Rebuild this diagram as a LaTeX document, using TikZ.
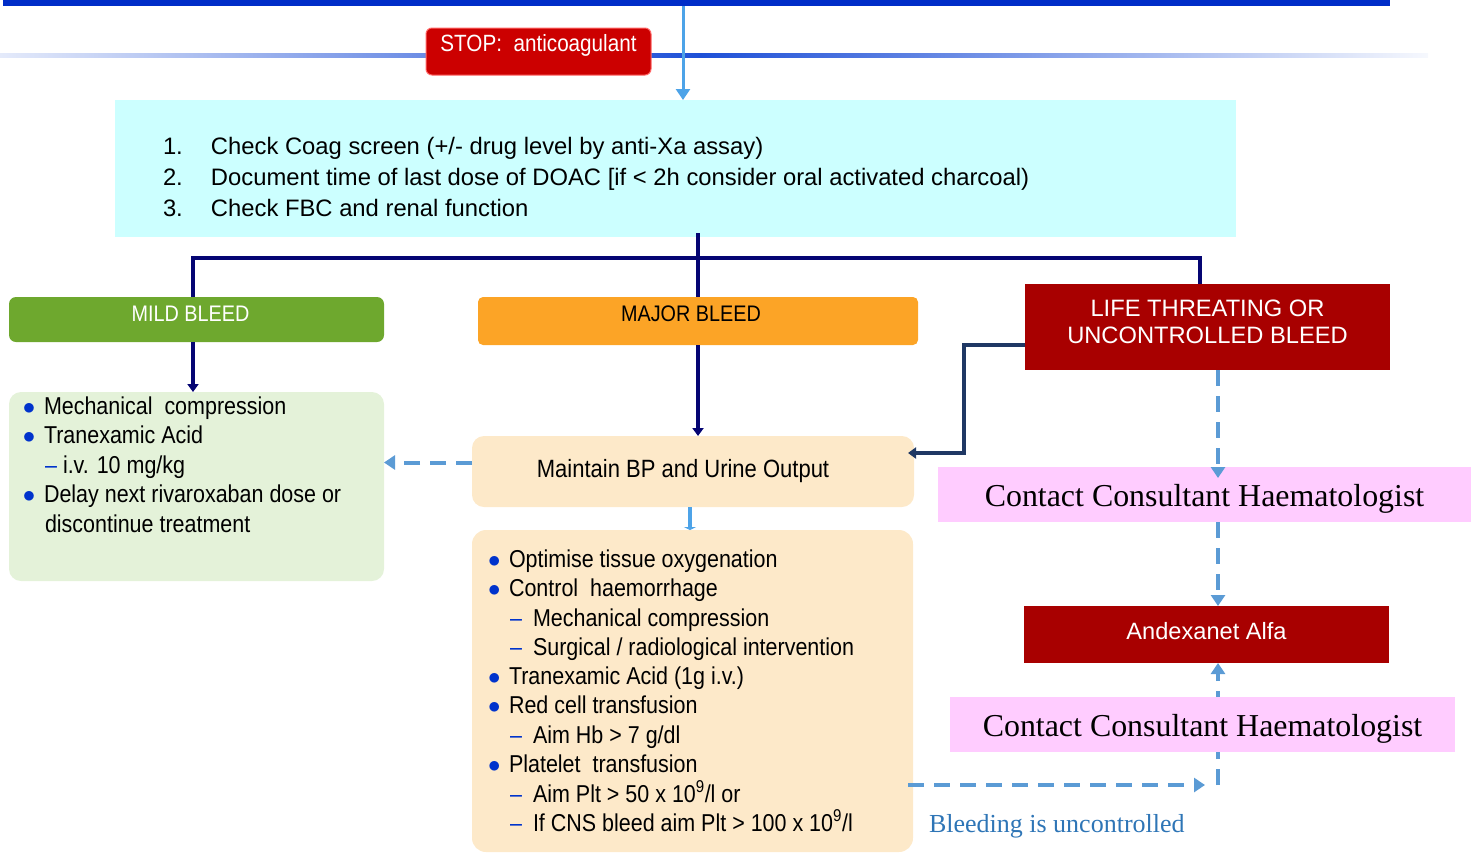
\documentclass[tikz,border=0pt]{standalone}
\usepackage{fontspec}
\setmainfont{Liberation Sans}
\newfontfamily\cond[FakeStretch=0.88]{Liberation Sans}
\newfontfamily\tms{Liberation Serif}
\usetikzlibrary{arrows.meta,backgrounds,calc}
\definecolor{barblue}{RGB}{0,45,200}
\definecolor{lineblue}{RGB}{30,80,215}
\definecolor{arrblue}{RGB}{77,163,232}
\definecolor{dashblue}{RGB}{91,155,213}
\definecolor{navy}{RGB}{5,5,115}
\definecolor{navytwo}{RGB}{31,56,100}
\definecolor{cyanbox}{RGB}{204,255,255}
\definecolor{mildgreen}{RGB}{110,168,46}
\definecolor{majorange}{RGB}{252,164,38}
\definecolor{darkred}{RGB}{168,0,0}
\definecolor{stopred}{RGB}{204,0,0}
\definecolor{mildfill}{RGB}{228,242,217}
\definecolor{peach}{RGB}{253,233,201}
\definecolor{pinkbox}{RGB}{255,204,255}
\definecolor{bulblue}{RGB}{0,51,204}
\definecolor{unctext}{RGB}{46,117,182}
\newcommand{\bul}{\makebox[21pt][l]{\textcolor{bulblue}{$\bullet$}}}
\newcommand{\mdash}{\makebox[23pt][l]{\textcolor{bulblue}{–}}}
\begin{document}
\begin{tikzpicture}[x=1pt,y=-1pt,
  every node/.style={inner sep=0pt,outer sep=0pt},
  box/.style={anchor=north west},
  li/.style={anchor=base west,font=\cond\fontsize{24.4}{29}\selectfont,text=black},
  cy/.style={anchor=base west,font=\fontsize{23.8}{29}\selectfont,text=black},
  tree/.style={draw=navy,line width=4pt},
  dsh/.style={draw=dashblue,line width=4pt,dash pattern=on 16pt off 10pt},
  tipb/.style={-{Triangle[length=11pt,width=14pt]}},
  tipn/.style={-{Triangle[length=8pt,width=11pt]}}
]
\useasboundingbox (0,0) rectangle (1471,852);

% top bar and divider
\node[box,fill=barblue,minimum width=1387,minimum height=6] (topbar) at (3,0) {};
\shade[left color=lineblue!12,right color=lineblue] (0,53) rectangle (700,57);
\shade[left color=lineblue,right color=lineblue!4] (700,53) rectangle (1428,57);

% boxes
\node[box,fill=stopred,draw=red!60!white,line width=1pt,rounded corners=6,minimum width=225,minimum height=47,
  text=white,font=\cond\fontsize{23.5}{26}\selectfont] (stop) at (426,28) {\raisebox{17pt}{STOP:\ \ anticoagulant}};
\node[box,fill=cyanbox,minimum width=1121,minimum height=137] (checks) at (115,100) {};
\node[box,fill=mildgreen,rounded corners=7,minimum width=375,minimum height=45,
  text=white,font=\cond\fontsize{22.5}{26}\selectfont] (mild) at (9,297) {\hspace*{-12pt}\raisebox{12pt}{MILD BLEED}};
\node[box,fill=majorange,rounded corners=5,minimum width=440,minimum height=48,
  text=black,font=\cond\fontsize{22.5}{26}\selectfont] (major) at (478,297) {\hspace*{-14pt}\raisebox{15pt}{MAJOR BLEED}};
\node[box,fill=darkred,minimum width=365,minimum height=86,align=center,
  text=white,font=\fontsize{23.7}{27}\selectfont] (life) at (1025,284) {LIFE THREATING OR\\UNCONTROLLED BLEED\\[-16pt]\mbox{}};
\node[box,fill=mildfill,rounded corners=12,minimum width=375,minimum height=189] (mildlist) at (9,392) {};
\node[box,fill=peach,rounded corners=12,minimum width=442,minimum height=71,
  font=\cond\fontsize{25}{28}\selectfont] (bp) at (472,436) {\hspace*{-20pt}Maintain BP and Urine Output};
\node[box,fill=peach,rounded corners=14,minimum width=441,minimum height=322] (majlist) at (472,530) {};
\node[box,fill=pinkbox,minimum width=533,minimum height=55,font=\tms\fontsize{31.9}{34}\selectfont] (cc1) at (938,467) {\raisebox{-11.5pt}[0pt][0pt]{Contact Consultant Haematologist}};
\node[box,fill=darkred,minimum width=365,minimum height=57,text=white,font=\fontsize{23.6}{26}\selectfont] (andex) at (1024,606) {\raisebox{7pt}{Andexanet Alfa}};

% connectors behind the second contact box
\coordinate (vx) at (1218,0);
\coordinate (m) at (1218,785);
\begin{scope}[on background layer]
\draw[dsh,tipb] (m) -- (andex.south -| vx);
\end{scope}
\node[box,fill=pinkbox,minimum width=505,minimum height=55,font=\tms\fontsize{31.9}{34}\selectfont] (cc2) at (950,697) {\raisebox{-11.5pt}[0pt][0pt]{Contact Consultant Haematologist}};

% cyan text
\node[cy] (c1) at (163,154) {\makebox[48pt][l]{1.}Check Coag screen (+/- drug level by anti-Xa assay)};
\node[cy] (c2) at (163,185) {\makebox[48pt][l]{2.}Document time of last dose of DOAC [if < 2h consider oral activated charcoal)};
\node[cy] (c3) at (163,216) {\makebox[48pt][l]{3.}Check FBC and renal function};

% mild list
\node[li] (ml1) at (23,414) {\bul Mechanical\ \ compression};
\node[li] (ml2) at (23,443) {\bul Tranexamic Acid};
\node[li] (ml3) at (45,473) {\makebox[18pt][l]{\textcolor{bulblue}{–}}i.v. 10 mg/kg};
\node[li] (ml4) at (23,502) {\bul Delay next rivaroxaban dose or};
\node[li] (ml5) at (45,532) {discontinue treatment};

% major list
\node[li] (mj1) at (488,567) {\bul Optimise tissue oxygenation};
\node[li] (mj2) at (488,596) {\bul Control\ \ haemorrhage};
\node[li] (mj3) at (510,626) {\mdash Mechanical compression};
\node[li] (mj4) at (510,655) {\mdash Surgical / radiological intervention};
\node[li] (mj5) at (488,684) {\bul Tranexamic Acid (1g i.v.)};
\node[li] (mj6) at (488,713) {\bul Red cell transfusion};
\node[li] (mj7) at (510,743) {\mdash Aim Hb > 7 g/dl};
\node[li] (mj8) at (488,772) {\bul Platelet\ \ transfusion};
\node[li] (mj9) at (510,802) {\mdash Aim Plt > 50 x 10\textsuperscript{9}/l or};
\node[li] (mj10) at (510,831) {\mdash If CNS bleed aim Plt > 100 x 10\textsuperscript{9}/l};

\node[anchor=base west,font=\tms\fontsize{26}{30}\selectfont,text=unctext] (unc) at (929,832) {Bleeding is uncontrolled};

% connectors
\coordinate (sx) at (683,0);
\coordinate (tl) at (193,0);
\coordinate (tr) at (1200,0);
\coordinate (j) at (697,258);
\draw[draw=arrblue,line width=3pt,tipb] (topbar.south -| sx) -- (checks.north -| sx);
\draw[tree] ([yshift=4pt]checks.south -| major.north) -- (major.north);
\draw[tree] (mild.north -| tl) -- (j -| tl) -- (j -| tr) -- (life.north -| tr);
\draw[tree,line width=3.5pt,tipn] (mild.south -| tl) -- (mildlist.north -| tl);
\draw[tree,line width=3.5pt,tipn] (major.south) -- (bp.north -| major.south);
\draw[dsh,tipb] ([yshift=9pt]bp.west) -- ([yshift=9pt]bp.west -| mildlist.east);
\coordinate (k) at (964,453);
\draw[draw=navytwo,line width=3.5pt,tipn] ([yshift=-18pt]life.west) -| (k) -- ([xshift=-6pt]k -| bp.east);
\draw[dsh,tipb] (life.south -| vx) -- ([yshift=-11pt]cc1.north -| vx);
\draw[dsh,tipb] (cc1.south -| vx) -- (andex.north -| vx);
\draw[dsh,tipb] ([xshift=-5pt]majlist.east |- m) -- ([xshift=-13pt]m);
\coordinate (bx) at (690,0);
\draw[draw=arrblue,line width=4pt,-{Triangle[length=3pt,width=12pt]}] (bp.south -| bx) -- (majlist.north -| bx);
\end{tikzpicture}
\end{document}
